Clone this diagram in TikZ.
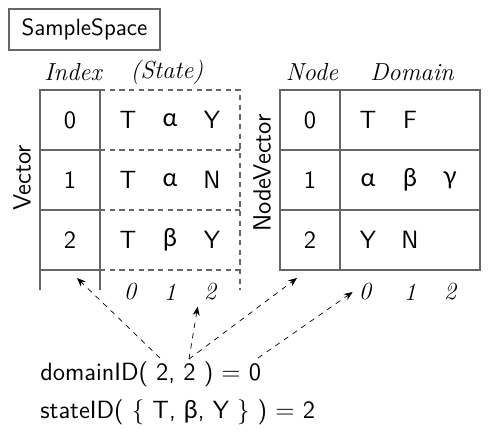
\documentclass[tikz,border=0pt]{standalone}
\usepackage{fontspec}
\newfontfamily\grk{Lato}
\newcommand{\gk}[1]{{\grk #1}}
\usetikzlibrary{arrows.meta}
\tikzset{
  grid/.style={draw=black!60, line width=0.7pt},
  dgrid/.style={grid, dash pattern=on 3pt off 2.5pt},
  hdr/.style={font=\fontsize{14}{16}\selectfont\rmfamily\itshape},
  ref/.style={-{Stealth[length=5pt,width=4pt]}, dashed, thin},
}
\begin{document}
\begin{tikzpicture}[every node/.style={font=\fontsize{14.2}{16}\selectfont\sffamily}]
                \useasboundingbox (0,0) rectangle (10,8.8);
                \node[draw=black!60, line width=0.7pt, minimum width=3.02cm, minimum height=0.82cm, font=\fontsize{13.4}{16}\selectfont\sffamily] (space) at (1.69,8.21) {SampleSpace};

                % state vector
                \draw[grid] (0.8,3.0) -- (0.8,7.0) -- (2.0,7.0) -- (2.0,3.0);
                \draw[grid] (0.8,5.8) -- (2.0,5.8);
                \draw[grid] (0.8,4.6) -- (2.0,4.6);
                \draw[grid] (0.8,3.4) -- (2.0,3.4);
                \draw[dgrid] (2.0,7.0) -- (4.8,7.0) -- (4.8,3.0);
                \draw[dgrid] (2.0,5.8) -- (4.8,5.8);
                \draw[dgrid] (2.0,4.6) -- (4.8,4.6);
                \draw[dgrid] (2.0,3.4) -- (4.8,3.4);

                \node[hdr] (index) at (1.46,7.36) {Index};
                \node[hdr] (state) at (3.34,7.36) {(State)};
                \node[rotate=90] (vector) at (0.44,5.24) {Vector};

                \node (ia) at (1.4,6.4) {0};
                \node (ib) at (1.4,5.2) {1};
                \node (ic) at (1.4,4.0) {2};
                \node (saa) at (2.56,6.4) {T};
                \node (sab) at (3.4,6.4) {\gk{α}};
                \node (sac) at (4.24,6.4) {Y};
                \node (sba) at (2.56,5.2) {T};
                \node (sbb) at (3.4,5.2) {\gk{α}};
                \node (sbc) at (4.24,5.2) {N};
                \node (sca) at (2.56,4.0) {T};
                \node (scb) at (3.4,4.0) {\gk{β}};
                \node (scc) at (4.24,4.0) {Y};
                \node[hdr] (sposa) at (2.6,2.96) {0};
                \node[hdr] (sposb) at (3.4,2.96) {1};
                \node[hdr] (sposc) at (4.2,2.96) {2};

                % node vector
                \draw[grid] (5.6,3.4) rectangle (9.6,7.0);
                \draw[grid] (6.8,3.4) -- (6.8,7.0);
                \draw[grid] (5.6,5.8) -- (9.6,5.8);
                \draw[grid] (5.6,4.6) -- (9.6,4.6);

                \node[hdr] (node) at (6.24,7.36) {Node};
                \node[hdr] (domain) at (8.24,7.36) {Domain};
                \node[rotate=90] (nodevector) at (5.24,5.34) {NodeVector};

                \node (na) at (6.2,6.4) {0};
                \node (nb) at (6.2,5.2) {1};
                \node (nc) at (6.2,4.0) {2};
                \node (daa) at (7.36,6.4) {T};
                \node (dab) at (8.2,6.4) {F};
                \node (dba) at (7.36,5.2) {\gk{α}};
                \node (dbb) at (8.2,5.2) {\gk{β}};
                \node (dbc) at (9.0,5.2) {\gk{γ}};
                \node (dca) at (7.36,4.0) {Y};
                \node (dcb) at (8.2,4.0) {N};
                \node[hdr] (dposa) at (7.3,2.96) {0};
                \node[hdr] (dposb) at (8.2,2.96) {1};
                \node[hdr] (dposc) at (9.0,2.96) {2};

                % queries
                \node[anchor=base west, inner sep=0pt] (domainid) at (0.8,1.2) {domainID( 2, 2 ) $=$ 0};
                \node[anchor=base west, inner sep=0pt] (stateid) at (0.8,0.44) {stateID( \{ T, \gk{β}, Y \} ) $=$ 2};

                \coordinate (argstate) at (3.2,1.64);
                \coordinate (argnode) at (3.78,1.62);
                \coordinate (result) at (5.16,1.64);
                \coordinate (srow) at (1.54,3.24);
                \coordinate (nrow) at (5.94,3.24);

                \draw[ref] (argstate) to (srow);
                \draw[ref] (argnode) to (sposc.south west);
                \draw[ref] (argnode) to (nrow);
                \draw[ref] (result) to (dposa.west);
            \end{tikzpicture}
\end{document}
